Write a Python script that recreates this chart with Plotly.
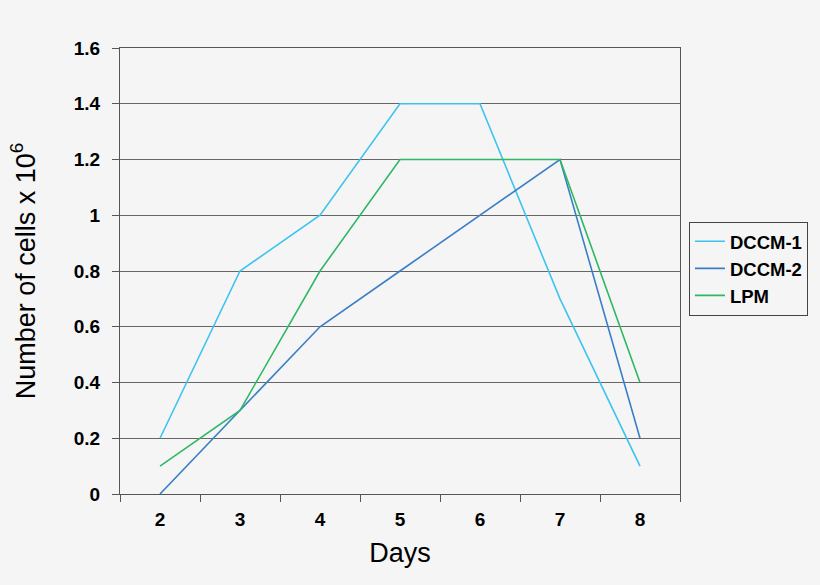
import plotly.graph_objects as go

days = ['2', '3', '4', '5', '6', '7', '8']
dccm1 = [0.2, 0.8, 1.0, 1.4, 1.4, 0.7, 0.1]
dccm2 = [0.0, 0.3, 0.6, 0.8, 1.0, 1.2, 0.2]
lpm = [0.1, 0.3, 0.8, 1.2, 1.2, 1.2, 0.4]

series = [
    ('DCCM-1', dccm1, '#3ec3f0'),
    ('DCCM-2', dccm2, '#3a7fc6'),
    ('LPM', lpm, '#2eb863'),
]

fig = go.Figure()
for name, vals, color in series:
    fig.add_trace(go.Scatter(x=days, y=vals, name=name, mode='lines',
                             line=dict(color=color, width=1.6)))

bg = '#f5f5f5'
fig.update_layout(
    width=820, height=585,
    paper_bgcolor=bg, plot_bgcolor=bg,
    margin=dict(l=120, r=140, t=48, b=91),
    font=dict(family='Arial, Liberation Sans', color='black'),
    showlegend=True,
    legend=dict(
        x=1.016, y=0.505, xanchor='left', yanchor='middle',
        bgcolor=bg, bordercolor='#444', borderwidth=1,
        font=dict(size=18.5, weight='bold'),
        tracegroupgap=2,
    ),
)
fig.update_xaxes(
    type='category', range=[-0.5, 6.5],
    showline=True, linecolor='#555', linewidth=1, mirror=True,
    ticks='outside', tickson='boundaries', ticklen=7, tickcolor='#555',
    showgrid=False, ticklabelstandoff=8,
    tickfont=dict(size=19, weight='bold'),
    title=dict(text='Days', font=dict(size=27), standoff=14),
)
fig.update_yaxes(
    range=[0, 1.6], dtick=0.2, tickformat='~g',
    showline=True, linecolor='#555', linewidth=1, mirror=True,
    ticks='outside', ticklen=7, tickcolor='#555',
    showgrid=True, gridcolor='#666', gridwidth=1, zeroline=False,
    ticklabelstandoff=8,
    tickfont=dict(size=19, weight='bold'),
    title=dict(text='Number of cells x 10<sup>6</sup>', font=dict(size=27), standoff=30),
)

fig.write_html('out.html', config={'displayModeBar': False},
               post_script="document.body.style.margin='0';")
